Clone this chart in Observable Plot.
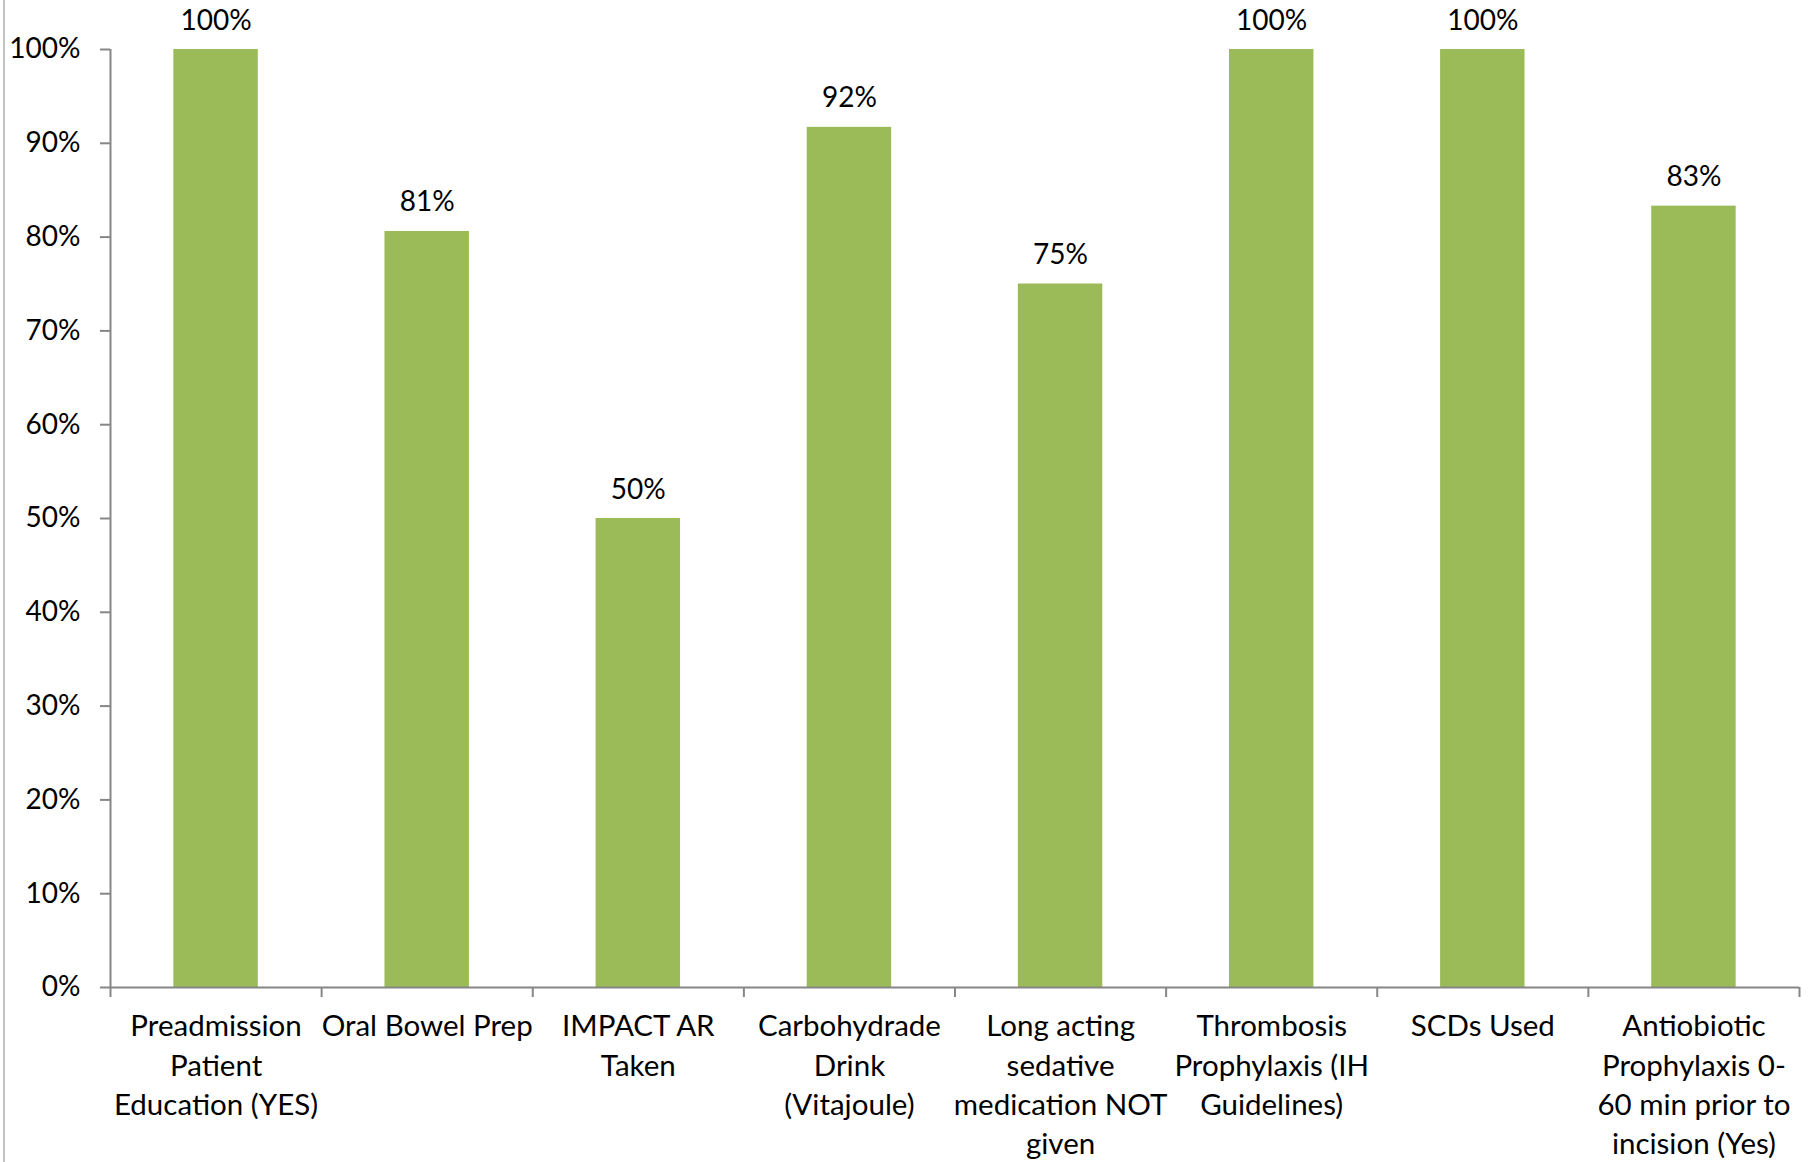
<!DOCTYPE html>
<html><head><meta charset="utf-8">
<script src="https://cdn.jsdelivr.net/npm/d3@7"></script>
<script src="https://cdn.jsdelivr.net/npm/@observablehq/plot@0.6"></script>
<style>
html,body{margin:0;padding:0;background:#fff;}
#wrap{position:relative;width:1814px;height:1162px;overflow:hidden;}
#border{position:absolute;left:3px;top:0;width:2px;height:1162px;background:#c4c4c4;}
</style></head><body><div id="wrap"><div id="border"></div></div>
<script>
const categories = [
  "Preadmission\nPatient\nEducation (YES)",
  "Oral Bowel Prep",
  "IMPACT AR\nTaken",
  "Carbohydrade\nDrink\n(Vitajoule)",
  "Long acting\nsedative\nmedication NOT\ngiven",
  "Thrombosis\nProphylaxis (IH\nGuidelines)",
  "SCDs Used",
  "Antiobiotic\nProphylaxis 0-\n60 min prior to\nincision (Yes)"
];
const values = [1.0, 0.806, 0.5, 0.917, 0.75, 1.0, 1.0, 0.833];
const yTicks = [0, 0.1, 0.2, 0.3, 0.4, 0.5, 0.6, 0.7, 0.8, 0.9, 1.0];

const data = categories.map((c, i) => ({c, i, v: values[i]}));
const gray = "#868686";
const pct = d3.format(".0%");

const plot = Plot.plot({
  width: 1814, height: 1162,
  marginLeft: 110, marginRight: 15, marginTop: 49, marginBottom: 175,
  x: {domain: [0, categories.length], label: null},
  y: {domain: [0, 1], label: null},
  style: {fontFamily: "Lato, sans-serif", fontSize: "28px", color: "black", background: "white", overflow: "visible"},
  marks: [
    Plot.rectY(data, {x1: d => d.i + 0.3, x2: d => d.i + 0.7, y: "v", fill: "#9BBB59"}),
    Plot.ruleX([0], {y1: 0, y2: 1, stroke: gray, strokeWidth: 2}),
    Plot.ruleY([0], {stroke: gray, strokeWidth: 2}),
    Plot.axisY({ticks: yTicks, tickFormat: pct, tickSize: 10, tickPadding: 20, stroke: gray, fill: "black", fontSize: 28, strokeWidth: 2, label: null}),
    Plot.axisX({ticks: d3.range(categories.length + 1), tickSize: 10, tickFormat: () => "", stroke: gray, strokeWidth: 2, label: null}),
    Plot.text(data, {x: d => d.i + 0.5, y: 0, text: "c", lineAnchor: "top", dy: 21, fontSize: 29.5, lineHeight: 1.33, fill: "black"}),
    Plot.text(data, {x: d => d.i + 0.5, y: "v", text: d => pct(d.v), lineAnchor: "bottom", dy: -20, fontSize: 28, fill: "black"})
  ]
});
document.getElementById("wrap").appendChild(plot);
</script>
</body></html>
